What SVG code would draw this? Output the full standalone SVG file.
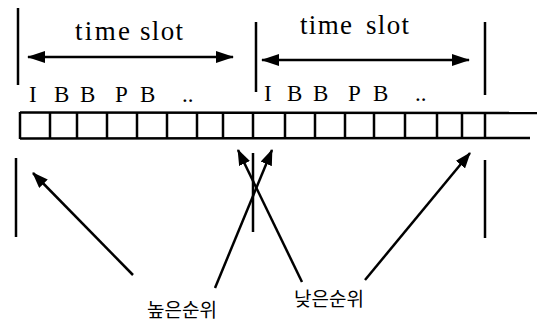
<svg xmlns="http://www.w3.org/2000/svg" width="544" height="325" viewBox="0 0 544 325">
<defs>
<style>
.ln{stroke:#000;stroke-width:2.5;fill:none}
.tk{stroke:#000;stroke-width:2.5;fill:none}
.lt{font-family:"Liberation Serif","Times New Roman",serif;fill:#000}
.kr{font-family:"Noto Sans CJK KR",sans-serif;font-size:19px;fill:#000}
</style>
<marker id="ah" viewBox="0 0 18 12" refX="17" refY="6" markerWidth="18" markerHeight="12" markerUnits="userSpaceOnUse" orient="auto-start-reverse">
<path d="M0,0 L18,6 L0,12 z" fill="#000"/>
</marker>
<marker id="ah2" viewBox="0 0 16 12" refX="15" refY="6" markerWidth="16" markerHeight="12" markerUnits="userSpaceOnUse" orient="auto">
<path d="M0,0 L16,6 L0,12 z" fill="#000"/>
</marker>
</defs>
<g id="ticks">
<line class="tk" x1="18" y1="8" x2="18" y2="85"/>
<line class="tk" x1="256" y1="22" x2="256" y2="92"/>
<line class="tk" x1="485" y1="22" x2="485" y2="95"/>
<line class="tk" x1="16" y1="158" x2="16" y2="237"/>
<line class="tk" x1="253" y1="153" x2="253" y2="232"/>
<line class="tk" x1="485" y1="160" x2="485" y2="238"/>
</g>
<g id="labels">
<g class="lt" font-size="27">
<text x="75" y="40" textLength="55">time</text>
<text x="140" y="40" textLength="43">slot</text>
<text x="300" y="34" textLength="52">time</text>
<text x="366" y="34" textLength="43">slot</text>
</g>
<g class="lt" font-size="23">
<text x="29" y="102">I</text>
<text x="54" y="102">B</text>
<text x="80" y="102">B</text>
<text x="115" y="102">P</text>
<text x="140" y="102">B</text>
<text x="182" y="102">..</text>
<text x="264" y="101">I</text>
<text x="287" y="101">B</text>
<text x="313" y="101">B</text>
<text x="348" y="101">P</text>
<text x="373" y="101">B</text>
<text x="415" y="101">..</text>
</g>
</g>
<g id="strip">
<line class="ln" x1="20" y1="112.5" x2="537" y2="113"/>
<line class="ln" x1="20" y1="138.5" x2="530" y2="138"/>
<path class="ln" d="M20,112V139M50,112V139M77,112V139M107,112V139M137,112V139M167,112V139M197,112V139M223,112V139M253,112V139M285,112V139M315,112V139M345,112V139M374,112V139M405,112V139M437,112V139M462,112V139M485,112V139"/>
</g>
<g id="priority-high">
<text class="kr" x="147" y="317">높은순위</text>
</g>
<g id="priority-low">
<text class="kr" x="294" y="306">낮은순위</text>
</g>
<g id="connectors">
<line class="ln" x1="28" y1="57" x2="233" y2="57" marker-start="url(#ah)" marker-end="url(#ah)"/>
<line class="ln" x1="262" y1="60" x2="469" y2="60" marker-start="url(#ah)" marker-end="url(#ah)"/>
<line class="ln" x1="133" y1="275" x2="33" y2="173" marker-end="url(#ah2)"/>
<line class="ln" x1="215" y1="288" x2="272" y2="150" marker-end="url(#ah2)"/>
<line class="ln" x1="302" y1="282" x2="238" y2="150" marker-end="url(#ah2)"/>
<line class="ln" x1="365" y1="280" x2="470" y2="153" marker-end="url(#ah2)"/>
</g>
</svg>
